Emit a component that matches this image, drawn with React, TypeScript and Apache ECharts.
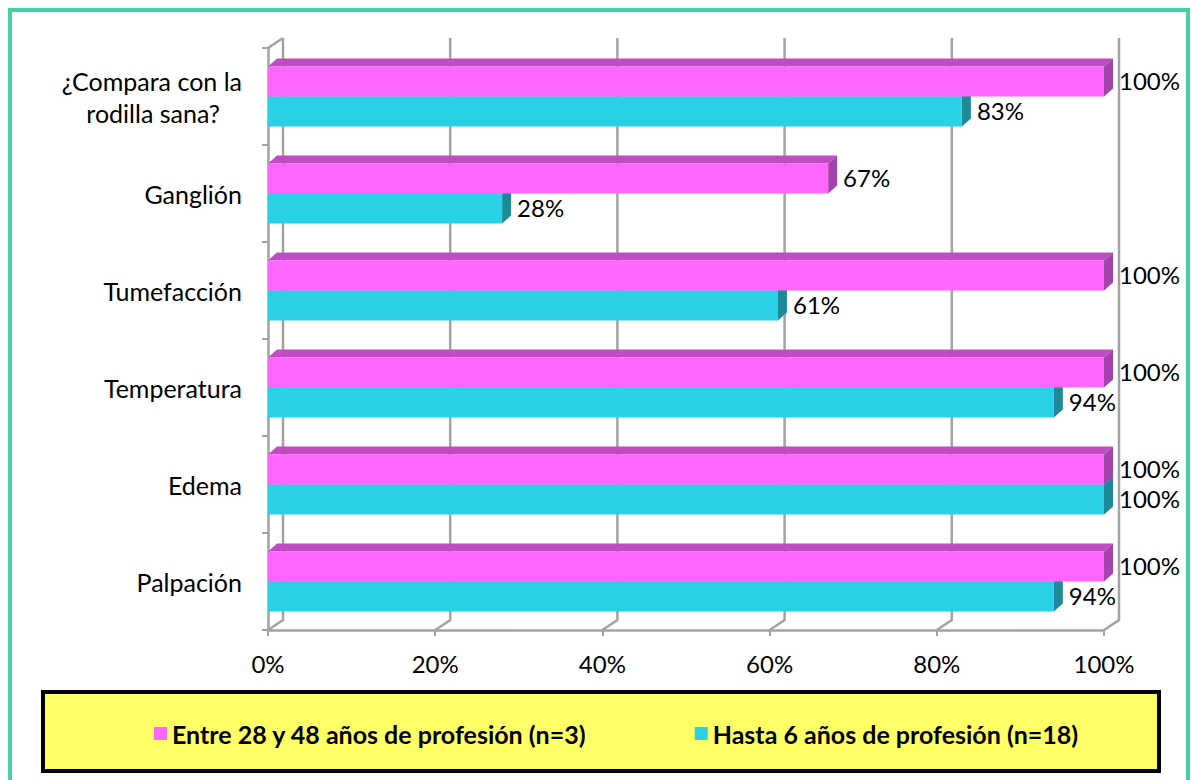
import React, { useEffect, useRef } from "react";
import * as echarts from "echarts";

const categories = [
  "¿Compara con la\nrodilla sana?",
  "Ganglión",
  "Tumefacción",
  "Temperatura",
  "Edema",
  "Palpación",
];
const seriesNames = [
  "Entre 28 y 48 años de profesión (n=3)",
  "Hasta 6 años de profesión (n=18)",
];
const entreValues = [100, 67, 100, 100, 100, 100];
const hastaValues = [83, 28, 61, 94, 100, 94];
const xTicks = [0, 20, 40, 60, 80, 100];

const FONT = "Lato";
const GRID_COLOR = "#a3a3a3";
const DX = 9;
const DY = 8;
const WALL_DX = 15;
const WALL_DY = 10;

const palettes = [
  { front: "#ff66ff", top: "#c04cc4", side: "#a443ac" },
  { front: "#2ad0e6", top: "#1fa3b5", side: "#1e8a99" },
];

function makeBarRender(idx: number) {
  const pal = palettes[idx];
  return (params: any, api: any) => {
    const v = api.value(0);
    const ci = api.value(1);
    const p0 = api.coord([0, ci]);
    const p1 = api.coord([v, ci]);
    const band = api.size([0, 1])[1];
    const h = band * 0.31;
    const x0 = p0[0];
    const x1 = p1[0];
    const yc = p0[1];
    const top = idx === 0 ? yc - h : yc;
    return {
      type: "group",
      children: [
        {
          type: "polygon",
          shape: {
            points: [
              [x0, top],
              [x0 + DX, top - DY],
              [x1 + DX, top - DY],
              [x1, top],
            ],
          },
          style: { fill: pal.top },
        },
        {
          type: "polygon",
          shape: {
            points: [
              [x1, top],
              [x1 + DX, top - DY],
              [x1 + DX, top + h - DY],
              [x1, top + h],
            ],
          },
          style: { fill: pal.side },
        },
        {
          type: "rect",
          shape: { x: x0, y: top, width: x1 - x0, height: h },
          style: { fill: pal.front },
        },
        {
          type: "text",
          x: x1 + DX + 6,
          y: top + h / 2 - 1,
          style: {
            text: v + "%",
            fill: "#000",
            font: `24px ${FONT}`,
            textAlign: "left",
            textVerticalAlign: "middle",
          },
        },
      ],
    };
  };
}

function frameRender(params: any, api: any) {
  const v = api.value(0);
  const cs = params.coordSys;
  const x = api.coord([v, 0])[0];
  const top = cs.y;
  const bottom = cs.y + cs.height;
  const children: any[] = [
    {
      type: "polyline",
      shape: {
        points: [
          [x, bottom],
          [x + WALL_DX, bottom - WALL_DY],
          [x + WALL_DX, top - WALL_DY],
        ],
      },
      style: { stroke: GRID_COLOR, lineWidth: 2.5, fill: "none" },
    },
  ];
  if (v === xTicks[0]) {
    children.push({
      type: "line",
      shape: { x1: x, y1: top, x2: x + WALL_DX, y2: top - WALL_DY },
      style: { stroke: GRID_COLOR, lineWidth: 2.5 },
    });
  }
  return { type: "group", children };
}

export default function App() {
  const ref = useRef<HTMLDivElement>(null);

  useEffect(() => {
    if (!ref.current) return;
    const chart = echarts.init(ref.current, null, { renderer: "svg" });
    const option: any = {
      animation: false,
      backgroundColor: "#ffffff",
      graphic: [
        {
          type: "rect",
          z: 0,
          shape: { x: 10, y: 10, width: 1178, height: 790 },
          style: { fill: "none", stroke: "#44d1a6", lineWidth: 4 },
        },
        {
          type: "rect",
          z: 0,
          shape: { x: 43, y: 692, width: 1116, height: 79 },
          style: { fill: "#ffff66", stroke: "#000", lineWidth: 4 },
        },
      ],
      legend: {
        z: 10,
        left: 149,
        top: 716,
        itemGap: 108,
        itemWidth: 13,
        itemHeight: 13,
        icon: "rect",
        data: seriesNames,
        textStyle: {
          fontFamily: FONT,
          fontWeight: "bold",
          fontSize: 25,
          color: "#000",
        },
      },
      grid: { left: 268, right: 91, top: 48, bottom: 150 },
      xAxis: {
        type: "value",
        min: 0,
        max: 100,
        interval: 20,
        axisLine: { show: true, lineStyle: { color: GRID_COLOR, width: 2.5 } },
        axisTick: { show: true, length: 6, lineStyle: { color: GRID_COLOR, width: 2 } },
        splitLine: { show: false },
        axisLabel: {
          formatter: "{value}%",
          margin: 21,
          fontFamily: FONT,
          fontSize: 24,
          color: "#000",
        },
      },
      yAxis: {
        type: "category",
        inverse: true,
        data: categories,
        axisLine: { show: true, lineStyle: { color: GRID_COLOR, width: 2.5 } },
        axisTick: { show: true, length: 6, lineStyle: { color: GRID_COLOR, width: 2 } },
        axisLabel: {
          margin: 26,
          fontFamily: FONT,
          fontSize: 25,
          color: "#000",
          formatter: (v: string) =>
            v.includes("\n")
              ? v
                  .split("\n")
                  .map((l, i) => (i === 0 ? `{a|${l}}` : `{b|${l}}`))
                  .join("\n")
              : v,
          rich: {
            a: { fontFamily: FONT, fontSize: 25, color: "#000", lineHeight: 32 },
            b: {
              fontFamily: FONT,
              fontSize: 25,
              color: "#000",
              lineHeight: 32,
              padding: [0, 22, 0, 0],
            },
          },
        },
      },
      series: [
        {
          type: "custom",
          name: "frame",
          z: 1,
          silent: true,
          clip: false,
          renderItem: frameRender,
          encode: { x: 0 },
          data: xTicks.map((t) => [t]),
        },
        {
          type: "custom",
          name: seriesNames[0],
          z: 3,
          clip: false,
          itemStyle: { color: palettes[0].front },
          renderItem: makeBarRender(0),
          encode: { x: 0, y: 1 },
          data: entreValues.map((v, i) => [v, i]),
        },
        {
          type: "custom",
          name: seriesNames[1],
          z: 2,
          clip: false,
          itemStyle: { color: palettes[1].front },
          renderItem: makeBarRender(1),
          encode: { x: 0, y: 1 },
          data: hastaValues.map((v, i) => [v, i]),
        },
      ],
    };
    chart.setOption(option);
    return () => chart.dispose();
  }, []);

  return (
    <div
      ref={ref}
      style={{ position: "fixed", left: 0, top: 0, width: 1195, height: 780 }}
    />
  );
}
